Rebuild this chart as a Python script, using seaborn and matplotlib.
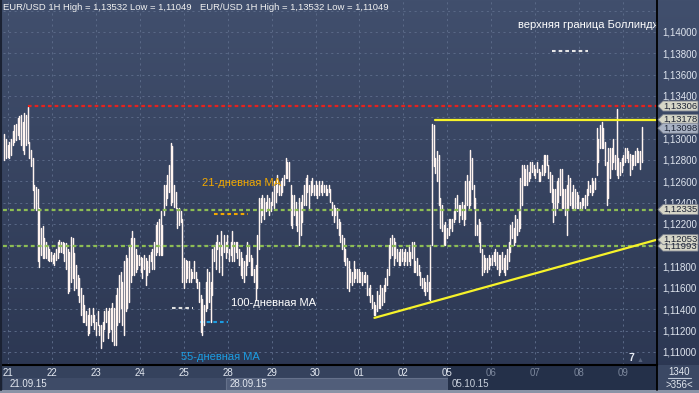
import numpy as np
import pandas as pd
import matplotlib
matplotlib.use("Agg")
import matplotlib.pyplot as plt
import seaborn as sns
from matplotlib.colors import LinearSegmentedColormap
from matplotlib.patches import Rectangle, Polygon
from matplotlib.lines import Line2D

# ---------------- data (EUR/USD 1H, high / low of each bar) ----------------
highs = [
    # 21.09 - 25.09
    1.1304, 1.1300, 1.1294, 1.1297, 1.1300, 1.1307, 1.1313, 1.1314, 1.1319, 1.1321,
    1.1322, 1.1316, 1.1324, 1.1322, 1.1330, 1.1297, 1.1289, 1.1282, 1.1257, 1.1255,
    1.1253, 1.1235, 1.1216, 1.1218, 1.1207, 1.1203, 1.1199, 1.1197, 1.1194, 1.1191,
    1.1193, 1.1197, 1.1203, 1.1205, 1.1203, 1.1203, 1.1202, 1.1202, 1.1197, 1.1194,
    1.1208, 1.1207, 1.1193, 1.1182, 1.1172, 1.1169, 1.1160, 1.1153, 1.1144, 1.1138,
    1.1135, 1.1141, 1.1135, 1.1141, 1.1135, 1.1128, 1.1138, 1.1125, 1.1125, 1.1128,
    1.1138, 1.1141, 1.1138, 1.1141, 1.1141, 1.1146, 1.1141, 1.1153, 1.1160, 1.1172,
    1.1175, 1.1166, 1.1185, 1.1191, 1.1188, 1.1200, 1.1207, 1.1213, 1.1207, 1.1197,
    1.1191, 1.1191, 1.1189, 1.1188, 1.1191, 1.1188, 1.1185, 1.1191, 1.1194, 1.1197,
    1.1203, 1.1219, 1.1222, 1.1225, 1.1232, 1.1219, 1.1257, 1.1257, 1.1266, 1.1275,
    1.1296, 1.1293, 1.1257, 1.1250, 1.1235, 1.1235, 1.1232, 1.1225, 1.1188, 1.1186,
    1.1185, 1.1185, 1.1178, 1.1175, 1.1185, 1.1175, 1.1168, 1.1166, 1.1153, 1.1150,
    1.1144, 1.1166, 1.1178, 1.1175, 1.1166, 1.1197, 1.1200, 1.1203, 1.1210, 1.1203,
    1.1213, 1.1200, 1.1210,
    # 25.09 - 02.10
    1.1203, 1.1210, 1.1197, 1.1203, 1.1213, 1.1203, 1.1203, 1.1203, 1.1197, 1.1194,
    1.1188, 1.1185, 1.1191, 1.1203, 1.1200, 1.1191, 1.1188, 1.1178, 1.1182, 1.1210,
    1.1244, 1.1244, 1.1247, 1.1244, 1.1241, 1.1247, 1.1244, 1.1241, 1.1250, 1.1260,
    1.1257, 1.1266, 1.1257, 1.1260, 1.1263, 1.1266, 1.1282, 1.1278, 1.1278, 1.1257,
    1.1247, 1.1247, 1.1241, 1.1232, 1.1244, 1.1241, 1.1247, 1.1257, 1.1263, 1.1266,
    1.1257, 1.1260, 1.1263, 1.1257, 1.1260, 1.1257, 1.1260, 1.1257, 1.1260, 1.1257,
    1.1257, 1.1253, 1.1257, 1.1253, 1.1241, 1.1238, 1.1235, 1.1235, 1.1225, 1.1222,
    1.1210, 1.1207, 1.1197, 1.1188, 1.1185, 1.1178, 1.1175, 1.1185, 1.1178, 1.1178,
    1.1178, 1.1175, 1.1175, 1.1172, 1.1175, 1.1172, 1.1160, 1.1163, 1.1153, 1.1147,
    1.1144, 1.1157, 1.1153, 1.1163, 1.1160, 1.1163, 1.1169, 1.1178, 1.1200, 1.1207,
    1.1210, 1.1207, 1.1203, 1.1197, 1.1194, 1.1197, 1.1197, 1.1194, 1.1197, 1.1194,
    1.1200, 1.1194, 1.1203, 1.1203, 1.1185, 1.1188, 1.1182, 1.1175, 1.1169, 1.1169,
    1.1166, 1.1172, 1.1166, 1.1200, 1.1314, 1.1313, 1.1282, 1.1288, 1.1285, 1.1244,
    1.1238, 1.1219,
    # 05.10 - 09.10
    1.1222, 1.1216, 1.1225, 1.1225, 1.1225, 1.1232, 1.1244, 1.1247, 1.1238, 1.1238,
    1.1241, 1.1238, 1.1260, 1.1266, 1.1260, 1.1289, 1.1282, 1.1257, 1.1244, 1.1219,
    1.1225, 1.1222, 1.1197, 1.1191, 1.1188, 1.1188, 1.1191, 1.1188, 1.1191, 1.1194,
    1.1197, 1.1194, 1.1191, 1.1191, 1.1194, 1.1188, 1.1191, 1.1197, 1.1203, 1.1219,
    1.1222, 1.1216, 1.1228, 1.1225, 1.1232, 1.1263, 1.1275, 1.1275, 1.1272, 1.1275,
    1.1269, 1.1278, 1.1278, 1.1275, 1.1272, 1.1278, 1.1272, 1.1269, 1.1275, 1.1285,
    1.1285, 1.1285, 1.1275, 1.1269, 1.1266, 1.1253, 1.1253, 1.1260, 1.1263, 1.1272,
    1.1272, 1.1253, 1.1253, 1.1257, 1.1266, 1.1263, 1.1250, 1.1257, 1.1253, 1.1250,
    1.1247, 1.1241, 1.1244, 1.1244, 1.1247, 1.1253, 1.1260, 1.1257, 1.1263, 1.1260,
    1.1263, 1.1310, 1.1300, 1.1313, 1.1316, 1.1310, 1.1297, 1.1278, 1.1291, 1.1291,
    1.1291, 1.1300, 1.1285, 1.1328, 1.1282, 1.1278, 1.1282, 1.1285, 1.1291, 1.1291,
    1.1288, 1.1286, 1.1285, 1.1285, 1.1288, 1.1291, 1.1288, 1.1288, 1.1311,
]
lows = [
    # 21.09 - 25.09
    1.1280, 1.1282, 1.1283, 1.1282, 1.1285, 1.1294, 1.1297, 1.1299, 1.1303, 1.1300,
    1.1294, 1.1289, 1.1286, 1.1294, 1.1296, 1.1282, 1.1274, 1.1252, 1.1235, 1.1233,
    1.1185, 1.1180, 1.1191, 1.1188, 1.1188, 1.1188, 1.1186, 1.1185, 1.1185, 1.1183,
    1.1182, 1.1186, 1.1188, 1.1194, 1.1194, 1.1193, 1.1185, 1.1178, 1.1155, 1.1157,
    1.1166, 1.1169, 1.1158, 1.1160, 1.1153, 1.1147, 1.1135, 1.1128, 1.1128, 1.1125,
    1.1116, 1.1118, 1.1125, 1.1128, 1.1122, 1.1116, 1.1125, 1.1116, 1.1104, 1.1110,
    1.1122, 1.1128, 1.1113, 1.1119, 1.1122, 1.1110, 1.1107, 1.1107, 1.1125, 1.1128,
    1.1141, 1.1125, 1.1116, 1.1138, 1.1141, 1.1147, 1.1166, 1.1172, 1.1172, 1.1175,
    1.1178, 1.1182, 1.1175, 1.1169, 1.1178, 1.1163, 1.1172, 1.1175, 1.1185, 1.1178,
    1.1178, 1.1191, 1.1194, 1.1191, 1.1191, 1.1191, 1.1228, 1.1238, 1.1244, 1.1250,
    1.1238, 1.1241, 1.1236, 1.1235, 1.1216, 1.1219, 1.1222, 1.1166, 1.1160, 1.1166,
    1.1169, 1.1166, 1.1166, 1.1169, 1.1169, 1.1166, 1.1160, 1.1147, 1.1119, 1.1116,
    1.1125, 1.1138, 1.1141, 1.1147, 1.1128, 1.1153, 1.1185, 1.1178, 1.1197, 1.1175,
    1.1191, 1.1172, 1.1194,
    # 25.09 - 02.10
    1.1188, 1.1194, 1.1185, 1.1191, 1.1185, 1.1185, 1.1194, 1.1188, 1.1182, 1.1172,
    1.1169, 1.1166, 1.1172, 1.1182, 1.1185, 1.1172, 1.1172, 1.1166, 1.1149, 1.1160,
    1.1197, 1.1222, 1.1228, 1.1225, 1.1232, 1.1235, 1.1228, 1.1232, 1.1238, 1.1235,
    1.1241, 1.1250, 1.1247, 1.1247, 1.1250, 1.1257, 1.1263, 1.1263, 1.1260, 1.1219,
    1.1216, 1.1228, 1.1219, 1.1213, 1.1200, 1.1210, 1.1222, 1.1238, 1.1238, 1.1250,
    1.1235, 1.1247, 1.1250, 1.1247, 1.1247, 1.1244, 1.1247, 1.1250, 1.1247, 1.1250,
    1.1247, 1.1247, 1.1250, 1.1241, 1.1228, 1.1222, 1.1228, 1.1216, 1.1210, 1.1203,
    1.1197, 1.1185, 1.1182, 1.1160, 1.1157, 1.1166, 1.1163, 1.1166, 1.1169, 1.1166,
    1.1166, 1.1166, 1.1163, 1.1166, 1.1166, 1.1153, 1.1153, 1.1147, 1.1141, 1.1135,
    1.1135, 1.1138, 1.1141, 1.1141, 1.1144, 1.1147, 1.1157, 1.1163, 1.1172, 1.1188,
    1.1191, 1.1182, 1.1188, 1.1185, 1.1182, 1.1182, 1.1185, 1.1182, 1.1185, 1.1182,
    1.1185, 1.1182, 1.1188, 1.1175, 1.1175, 1.1172, 1.1172, 1.1163, 1.1160, 1.1157,
    1.1153, 1.1157, 1.1150, 1.1149, 1.1200, 1.1274, 1.1268, 1.1260, 1.1238, 1.1216,
    1.1213, 1.1200,
    # 05.10 - 09.10
    1.1200, 1.1207, 1.1210, 1.1216, 1.1213, 1.1222, 1.1225, 1.1232, 1.1222, 1.1228,
    1.1225, 1.1219, 1.1225, 1.1238, 1.1235, 1.1238, 1.1253, 1.1235, 1.1210, 1.1210,
    1.1203, 1.1194, 1.1172, 1.1175, 1.1178, 1.1175, 1.1178, 1.1182, 1.1182, 1.1185,
    1.1182, 1.1178, 1.1172, 1.1175, 1.1178, 1.1175, 1.1172, 1.1178, 1.1185, 1.1194,
    1.1207, 1.1200, 1.1203, 1.1210, 1.1213, 1.1216, 1.1238, 1.1257, 1.1257, 1.1257,
    1.1260, 1.1263, 1.1269, 1.1266, 1.1263, 1.1269, 1.1260, 1.1260, 1.1266, 1.1266,
    1.1269, 1.1275, 1.1263, 1.1250, 1.1241, 1.1222, 1.1228, 1.1235, 1.1241, 1.1247,
    1.1235, 1.1235, 1.1228, 1.1210, 1.1235, 1.1238, 1.1235, 1.1235, 1.1235, 1.1235,
    1.1235, 1.1235, 1.1235, 1.1238, 1.1235, 1.1238, 1.1247, 1.1250, 1.1247, 1.1250,
    1.1253, 1.1266, 1.1278, 1.1291, 1.1291, 1.1291, 1.1275, 1.1238, 1.1244, 1.1263,
    1.1272, 1.1278, 1.1272, 1.1266, 1.1263, 1.1266, 1.1269, 1.1275, 1.1278, 1.1282,
    1.1278, 1.1266, 1.1272, 1.1275, 1.1275, 1.1278, 1.1278, 1.1272, 1.1278,
]
n = min(len(highs), len(lows))
highs, lows = highs[:n], lows[:n]

day_labels = ["21", "22", "23", "24", "25", "28", "29", "30", "01", "02",
              "05", "06", "07", "08", "09"]
week_labels = ["21.09.15", "28.09.15", "05.10.15"]

red_level = 1.13306
green_levels = [1.12335, 1.11993]
resist_level = 1.13178
trend_x = [222.4, 392.2]
trend_y = [1.1132, 1.12053]
tag_values = [1.13306, 1.13178, 1.13098, 1.12335, 1.11993, 1.12053]
title_text = "EUR/USD 1H High = 1,13532 Low = 1,11049"

# ---------------- style ----------------
sns.set_theme(style="dark")
plt.rcParams["font.family"] = ["Liberation Sans", "DejaVu Sans"]
plt.rcParams["lines.scale_dashes"] = False

W, H = 699, 393
fig = plt.figure(figsize=(W / 100, H / 100), dpi=100)
fig.patch.set_facecolor("#34425e")


def fx(x):
    return x / W


def fy(y):
    return 1 - y / H


# background gradient
bg = fig.add_axes([0, 0, 1, 1], zorder=-10)
grad = np.linspace(0, 1, 256).reshape(-1, 1)
cmap = LinearSegmentedColormap.from_list("bg", ["#414f6d", "#2b3651"])
bg.imshow(grad, aspect="auto", cmap=cmap, extent=[0, 1, 0, 1], origin="upper")
bg.set_axis_off()


def rect(x0, y0, x1, y1, fc, ec="none", lw=0, z=-5):
    fig.add_artist(Rectangle((fx(x0), fy(y1)), fx(x1) - fx(x0), fy(y0) - fy(y1),
                             transform=fig.transFigure, fc=fc, ec=ec, lw=lw, zorder=z))


# bottom strips
rect(0, 365, 448, 390, "#35425d")
rect(3, 378, 226, 390, "#3e4b67")
rect(226, 378, 448, 390, "#515e7a", ec="#65718b", lw=0.8)
rect(448, 365, 657, 390, "#243049")
rect(657, 365, 699, 390, "#3b4864")
rect(0, 390, 699, 393, "#8a93a6")

ax = fig.add_axes([fx(3), fy(365), fx(657) - fx(3), 365 / H])
ax.set_facecolor("none")

x_idx = np.arange(n)
df = pd.DataFrame({
    "bar": np.concatenate([x_idx, x_idx]),
    "price": np.concatenate([highs, lows]),
})
df = df.sort_values(["bar", "price"]).reset_index(drop=True)
sns.lineplot(data=df, x="bar", y="price", units="bar", estimator=None,
             color="#fff4f0", lw=1.05, ax=ax, legend=False, sort=False, zorder=3)

x_min, x_max = -0.8, 392.2
ax.set_xlim(x_min, x_max)
ax.set_ylim(1.10878, 1.14300)

# grid + axes labels
yt = np.round(np.arange(1.110, 1.1421, 0.002), 3)
hidden = [1.142, 1.132, 1.120]
ax.set_yticks(yt)
ax.set_yticklabels(["" if any(abs(v - h) < 1e-6 for h in hidden)
                    else ("%.5f" % v).replace(".", ",") for v in yt])
day_pos = 2.2 + 26.4 * np.arange(len(day_labels))
ax.set_xticks(day_pos)
ax.set_xticklabels(day_labels)
ax.grid(True, color="#5a6987", lw=0.7, ls=(0, (1.5, 2.5)))
ax.set_axisbelow(True)
ax.yaxis.tick_right()
ax.tick_params(axis="y", length=0, pad=4, labelsize=7, labelcolor="#dfe5ef")
ax.tick_params(axis="x", length=0, pad=2.2, labelsize=7)
for i, lbl in enumerate(ax.get_xticklabels()):
    lbl.set_color("#e3e8f0" if i <= 10 else "#7b869b")
ax.set_xlabel("")
ax.set_ylabel("")
for s in ["top", "right", "left"]:
    ax.spines[s].set_visible(False)
ax.spines["bottom"].set_color("black")
ax.spines["bottom"].set_linewidth(1.5)

# level lines
ax.plot([14, x_max], [red_level, red_level], color="#e8221c", lw=1.6,
        ls=(0, (2.6, 2.2)), zorder=4)
for g in green_levels:
    ax.plot([x_min, x_max], [g, g], color="#8dbd54", lw=1.6, ls=(0, (2.8, 2.2)), zorder=4)
ax.plot([258.6, x_max], [resist_level, resist_level], color="#f6f22a", lw=1.6, zorder=4)
ax.plot(trend_x, trend_y, color="#f6f22a", lw=1.6, zorder=4)

# annotations
ax.text(308.8, 1.14066, "верхняя граница Боллинджера", color="white", fontsize=8,
        va="center", ha="left", clip_on=True, zorder=5)
ax.plot([329.2, 350.8], [1.13825, 1.13825], color="#e8e8e8", lw=1.5, ls=(0, (2.6, 2.2)))
ax.text(118.6, 1.12584, "21-дневная МА", color="#f2a900", fontsize=8, va="center")
ax.plot([125.8, 146.2], [1.12297, 1.12297], color="#f2a900", lw=1.5, ls=(0, (2.6, 2.2)))
ax.text(136, 1.11459, "100-дневная МА", color="white", fontsize=8, va="center", zorder=5)
ax.plot([100.6, 113.2], [1.11410, 1.11410], color="#e0e0e0", lw=1.5, ls=(0, (2.6, 2.2)))
ax.plot([117.4, 134.2], [1.11284, 1.11284], color="#1c9de2", lw=1.5, ls=(0, (2.6, 2.2)))
ax.text(106, 1.10956, "55-дневная МА", color="#1c9de2", fontsize=8, va="center")

# title
fig.text(fx(3), fy(8), title_text, color="#f2f2f2", fontsize=6.8, va="center")
fig.text(fx(200), fy(8), title_text, color="#f2f2f2", fontsize=6.8, va="center")

# separators
fig.add_artist(Line2D([fx(657), fx(657)], [fy(0), fy(390)], color="black", lw=1.3,
                      transform=fig.transFigure, zorder=6))
fig.add_artist(Line2D([fx(0.8), fx(0.8)], [fy(0), fy(390)], color="#1b2233", lw=1.5,
                      transform=fig.transFigure, zorder=6))

# price tags
for v in tag_values:
    yc = H - ax.transData.transform((0, v))[1]
    fc = "#a9b2c4" if abs(v - 1.13098) < 1e-6 else "#d6d6c7"
    pts = [(658, yc), (663, yc - 5), (698, yc - 5), (698, yc + 5), (663, yc + 5)]
    fig.add_artist(Polygon([(fx(a), fy(b)) for a, b in pts], closed=True,
                           transform=fig.transFigure, fc=fc, ec="#7f8490", lw=0.6, zorder=7))
    fig.text(fx(663.5), fy(yc), ("%.5f" % v).replace(".", ","), color="#1d2436",
             fontsize=6.8, va="center", ha="left", zorder=8)

# bottom texts
fig.text(fx(10), fy(384), week_labels[0], color="#e3e8f0", fontsize=7, va="center")
fig.text(fx(230), fy(384), week_labels[1], color="#e3e8f0", fontsize=7, va="center")
fig.text(fx(452), fy(384), week_labels[2], color="#c9d0dc", fontsize=7, va="center")
fig.text(fx(679), fy(372), "1340", color="#e3e8f0", fontsize=7, va="center", ha="center")
fig.text(fx(679), fy(385), ">356<", color="#e3e8f0", fontsize=7, va="center", ha="center")
fig.add_artist(Line2D([fx(668), fx(691)], [fy(378), fy(378)], color="#c0c8d8", lw=0.8,
                      transform=fig.transFigure))
fig.text(fx(631), fy(358), "7", color="#e8ecf4", fontsize=7.5, fontweight="bold",
         va="center", ha="center", zorder=8)
fig.text(fx(640), fy(360), "▲", color="#56627c", fontsize=5, va="center", ha="center")

fig.savefig("out.png", dpi=100, facecolor=fig.get_facecolor())
